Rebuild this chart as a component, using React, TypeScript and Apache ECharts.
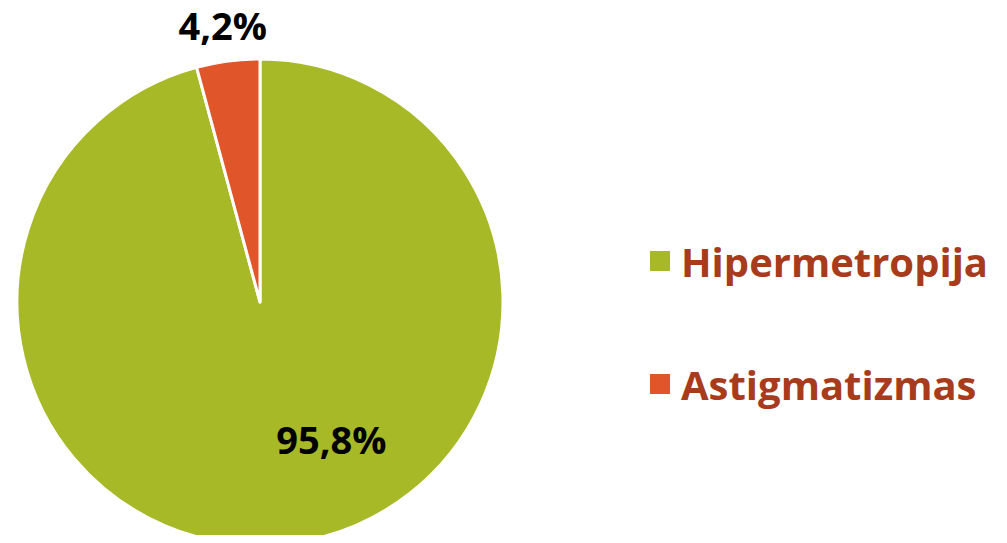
import React, { useEffect, useRef } from "react";
import * as echarts from "echarts";

const categories = ["Hipermetropija", "Astigmatizmas"];
const values = [95.8, 4.2];
const colors = ["#A8B928", "#E0562A"];

export default function App() {
  const ref = useRef<HTMLDivElement>(null);
  useEffect(() => {
    const chart = echarts.init(ref.current!, null, { renderer: "svg" });
    const font = "'Open Sans', sans-serif";
    chart.setOption({
      animation: false,
      color: colors,
      legend: {
        orient: "vertical",
        left: 643,
        top: 236,
        itemWidth: 22,
        itemHeight: 22,
        itemGap: 83,
        icon: "rect",
        data: categories,
        textStyle: {
          fontFamily: font,
          fontWeight: "bold",
          fontSize: 40,
          lineHeight: 40,
          color: "#A83B1C",
          padding: [0, 0, 0, 5],
        },
      },
      series: [
        {
          type: "pie",
          center: [260, 302],
          radius: 243,
          startAngle: 90,
          clockwise: true,
          itemStyle: { borderColor: "#ffffff", borderWidth: 3 },
          labelLine: { show: false, length: 0, length2: 0 },
          label: {
            fontFamily: font,
            fontWeight: "bold",
            fontSize: 38,
            lineHeight: 34,
            color: "#000000",
            formatter: (p: any) => String(p.value).replace(".", ",") + "%",
          },
          labelLayout: (p: any) =>
            p.dataIndex === 0 ? { dx: 55, dy: 14 } : { dx: 44, dy: -36 },
          data: categories.map((name, i) => ({
            name,
            value: values[i],
            label: { position: i === 0 ? "inside" : "outside" },
          })),
        },
      ],
    });
    return () => chart.dispose();
  }, []);
  return <div ref={ref} style={{ width: 1007, height: 543, margin: -8 }} />;
}
